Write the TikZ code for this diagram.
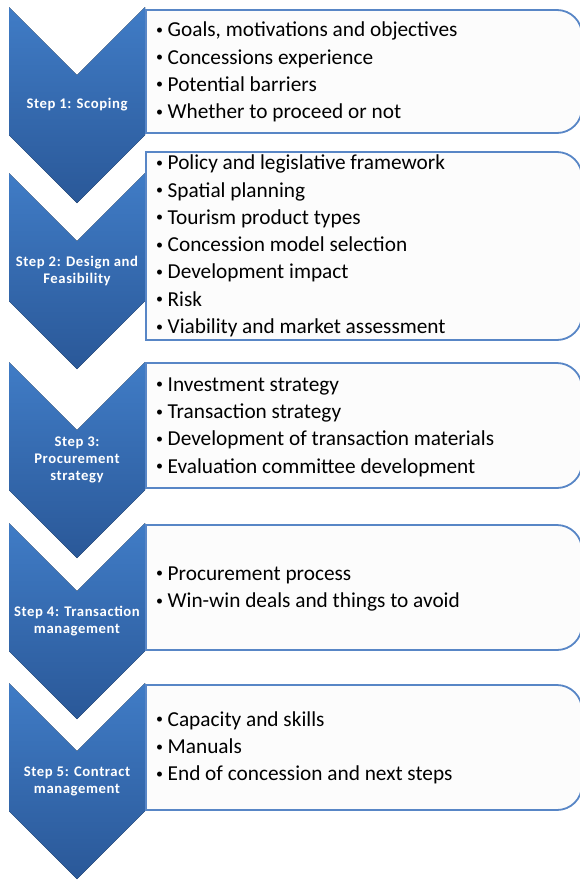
\documentclass[tikz,border=0pt]{standalone}
\usepackage{fontspec}
\setmainfont{Carlito}
\newfontfamily\chevfont[LetterSpace=4]{Carlito}
\definecolor{boxline}{RGB}{88,134,198}
\definecolor{chevtop}{RGB}{64,124,198}
\definecolor{chevbot}{RGB}{42,88,152}
\definecolor{boxfill}{RGB}{252,252,252}
\tikzset{
  chev/.style={top color=chevtop, bottom color=chevbot, draw=none},
  boxshape/.style={draw=boxline, line width=1.8pt, fill=boxfill},
  itemtext/.style={anchor=west, align=left, inner sep=0pt, text=black,
    font=\fontsize{21.3}{27.3}\selectfont},
  steptext/.style={align=center, inner sep=0pt, text=white,
    font=\chevfont\bfseries\fontsize{14.7}{17}\selectfont}
}
\newcommand\chevshape[1]{\fill[chev] (9,#1) -- (77,#1+68) -- (145,#1) -- (145,#1+128) -- (77,#1+196) -- (9,#1+128) -- cycle;}
\newcommand\boxpath[2]{\draw[boxshape] (146,#1) -- (557,#1) .. controls (570.8,#1) and (582,#1+11.2) .. (582,#1+25) -- (582,#2-25) .. controls (582,#2-11.2) and (570.8,#2) .. (557,#2) -- (146,#2) -- cycle;}
\newcommand\bl{\raisebox{2.4pt}{\fontsize{14}{14}\selectfont•}\hspace{4.5pt}}
\begin{document}
\begin{tikzpicture}[x=1pt,y=-1pt]
\useasboundingbox (0,0) rectangle (580,881);
\fill[white] (0,0) rectangle (580,881);
% chevrons
\chevshape{7}
\chevshape{173}
\chevshape{362}
\chevshape{523}
\chevshape{683}
% boxes
\boxpath{10}{133}
\boxpath{152}{340}
\boxpath{363}{488}
\boxpath{525}{650}
\boxpath{685}{810}
% step labels
\node[steptext] (s1) at (77,105) {Step 1: Scoping};
\node[steptext] (s2) at (77,271) {Step 2: Design and\\Feasibility};
\node[steptext] (s3) at (77,460) {Step 3:\\Procurement\\strategy};
\node[steptext] (s4) at (77,621) {Step 4: Transaction\\management};
\node[steptext] (s5) at (77,781) {Step 5: Contract\\management};
% items
\node[itemtext] (i1) at (156,72) {\bl Goals, motivations and objectives\\\bl Concessions experience\\\bl Potential barriers\\\bl Whether to proceed or not};
\node[itemtext] (i2) at (156,246) {\bl Policy and legislative framework\\\bl Spatial planning\\\bl Tourism product types\\\bl Concession model selection\\\bl Development impact\\\bl Risk\\\bl Viability and market assessment};
\node[itemtext] (i3) at (156,427) {\bl Investment strategy\\\bl Transaction strategy\\\bl Development of transaction materials\\\bl Evaluation committee development};
\node[itemtext] (i4) at (156,589) {\bl Procurement process\\\bl Win-win deals and things to avoid};
\node[itemtext] (i5) at (156,748) {\bl Capacity and skills\\\bl Manuals\\\bl End of concession and next steps};
\end{tikzpicture}
\end{document}
